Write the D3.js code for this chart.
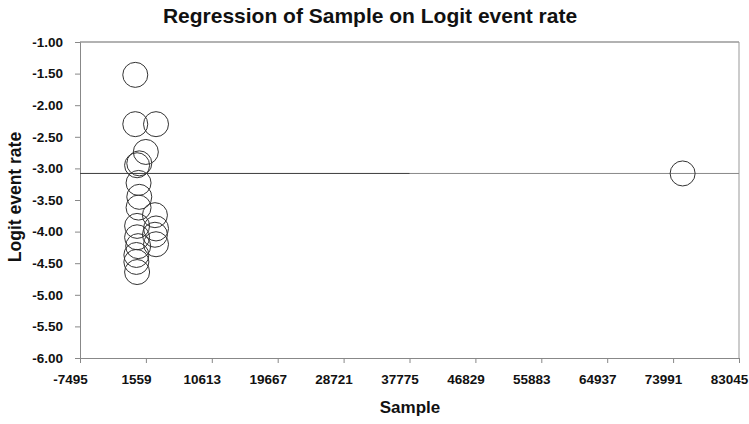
<!DOCTYPE html>
<html>
<head>
<meta charset="utf-8">
<script src="https://cdn.jsdelivr.net/npm/d3@7"></script>
<style>
  body { margin: 0; background: #fff; }
  text { font-family: "Liberation Sans", Arial, sans-serif; font-weight: bold; fill: #111; }
</style>
</head>
<body>
<div id="chart"></div>
<script>
const width = 749;
const height = 424;

// study points
const sample = [100, 100, 2950, 1550, 650, 350, 550, 650, 550, 350, 350, 500, 250, 250, 350,
  2800, 2950, 2800, 2950, 75300];
const logit = [-1.52, -2.30, -2.30, -2.74, -2.92, -2.95, -3.23, -3.45, -3.62, -3.91, -4.09, -4.23, -4.37, -4.48, -4.64,
  -3.74, -3.95, -4.05, -4.20, -3.08];

const xTicks = [-7495, 1559, 10613, 19667, 28721, 37775, 46829, 55883, 64937, 73991, 83045];
const yTicks = [-1.00, -1.50, -2.00, -2.50, -3.00, -3.50, -4.00, -4.50, -5.00, -5.50, -6.00];

// fitted line (nearly flat)
const lineX = [-7495, 37775, 83045];
const lineY = [-3.08, -3.08, -3.08];

const margin = { top: 42, right: 10, bottom: 66, left: 80 };

const svg = d3.select("#chart")
  .append("svg")
  .attr("width", width)
  .attr("height", height);

const x = d3.scaleLinear().domain([-7495, 83045]).range([margin.left, width - margin.right]);
const y = d3.scaleLinear().domain([-6, -1]).range([height - margin.bottom, margin.top]);

// plain hyphen minus like the original
const fmtX = d => String(d);
const fmtY = d => d.toFixed(2);

// frame
svg.append("line")
  .attr("x1", x(-7495)).attr("x2", x(83045))
  .attr("y1", y(-1)).attr("y2", y(-1))
  .attr("stroke", "#666").attr("stroke-width", 1.2);
svg.append("line")
  .attr("x1", x(83045)).attr("x2", x(83045))
  .attr("y1", y(-1)).attr("y2", y(-6))
  .attr("stroke", "#999").attr("stroke-width", 1);

const xAxis = svg.append("g")
  .attr("transform", `translate(0,${y(-6)})`)
  .call(d3.axisBottom(x).tickValues(xTicks).tickFormat(fmtX).tickSizeOuter(0).tickSize(5).tickPadding(11));
xAxis.select(".domain").attr("stroke", "#888");
xAxis.selectAll(".tick line").attr("stroke", "#888");
xAxis.selectAll("text").attr("font-size", 13.5).attr("fill", "#111").attr("dx", -10);

const yAxis = svg.append("g")
  .attr("transform", `translate(${x(-7495)},0)`)
  .call(d3.axisLeft(y).tickValues(yTicks).tickFormat(fmtY).tickSizeOuter(0).tickSize(5).tickPadding(12));
yAxis.select(".domain").attr("stroke", "#888");
yAxis.selectAll(".tick line").attr("stroke", "#888");
yAxis.selectAll("text").attr("font-size", 13.5).attr("fill", "#111");

// regression line, first half drawn darker
svg.append("line")
  .attr("x1", x(lineX[0])).attr("x2", x(lineX[2]))
  .attr("y1", y(lineY[0])).attr("y2", y(lineY[2]))
  .attr("stroke", "#888").attr("stroke-width", 1);
svg.append("line")
  .attr("x1", x(lineX[0])).attr("x2", x(lineX[1]))
  .attr("y1", y(lineY[0])).attr("y2", y(lineY[1]))
  .attr("stroke", "#444").attr("stroke-width", 1);

svg.append("g")
  .selectAll("circle")
  .data(sample.map((s, i) => ({ s, v: logit[i] })))
  .enter()
  .append("circle")
  .attr("cx", d => x(d.s))
  .attr("cy", d => y(d.v))
  .attr("r", 12.5)
  .attr("fill", "none")
  .attr("stroke", "#333")
  .attr("stroke-width", 1);

svg.append("text")
  .attr("x", 370).attr("y", 23)
  .attr("text-anchor", "middle")
  .attr("font-size", 21)
  .text("Regression of Sample on Logit event rate");

svg.append("text")
  .attr("x", 410).attr("y", 413)
  .attr("text-anchor", "middle")
  .attr("font-size", 17)
  .text("Sample");

svg.append("text")
  .attr("transform", `translate(21,${(y(-1) + y(-6)) / 2 - 3}) rotate(-90)`)
  .attr("text-anchor", "middle")
  .attr("font-size", 17.5)
  .text("Logit event rate");
</script>
</body>
</html>
